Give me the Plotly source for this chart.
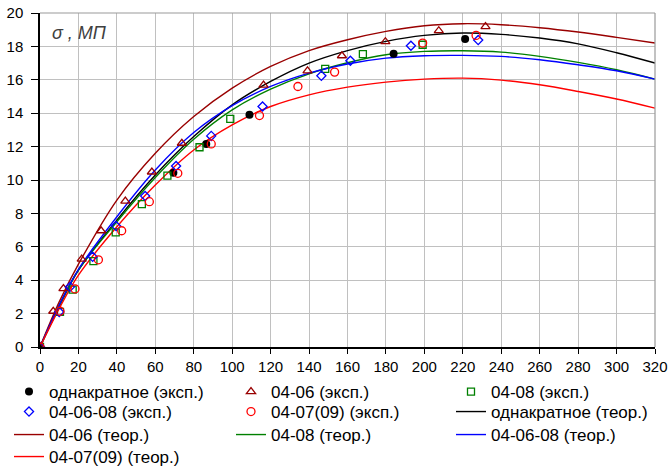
import plotly.graph_objects as go

# ---- experimental data ----
single_x = [0, 69.4, 86.5, 109, 184, 221.2]
single_y = [0, 10.44, 12.16, 13.9, 17.56, 18.44]

s0406_x = [0, 6.9, 12.2, 21.7, 31.8, 44.4, 58.2, 73.8, 116.3, 139.2, 157.1, 179.7, 207.5, 231.8]
s0406_y = [0, 2.14, 3.5, 5.26, 6.96, 8.74, 10.48, 12.2, 15.68, 16.54, 17.44, 18.28, 18.94, 19.18]

s0408_x = [0, 10.4, 17, 27.8, 39.4, 53, 66.3, 83, 99, 148.4, 168, 199.1]
s0408_y = [0, 2.1, 3.44, 5.14, 6.86, 8.56, 10.26, 11.96, 13.66, 16.66, 17.54, 18.1]

s040608_x = [0, 10, 15.6, 27.4, 39.6, 54.7, 70.8, 89.1, 115.8, 146.4, 161.5, 193, 228]
s040608_y = [0, 2.1, 3.6, 5.4, 7.24, 9.04, 10.84, 12.64, 14.4, 16.24, 17.14, 18.04, 18.38]

s0407_x = [0, 10.4, 18.2, 30.4, 42.5, 56.9, 71.7, 89.1, 114.2, 134.2, 153.3, 199.1, 226.9]
s0407_y = [0, 2.14, 3.48, 5.22, 6.96, 8.7, 10.4, 12.16, 13.86, 15.6, 16.46, 18.2, 18.66]

# ---- theoretical curves (read at these strains) ----
theo_x = [0, 10, 20, 40, 60, 80, 100, 120, 140, 160, 180, 200, 220, 240, 260, 280, 300, 320]
theo_single = [0, 2.5, 4.6, 7.6, 10.3, 12.6, 14.5, 15.9, 17.0, 17.75, 18.3, 18.66, 18.8, 18.72, 18.5, 18.15, 17.62, 17.0]
theo_0406 = [0, 2.7, 4.96, 8.8, 11.6, 13.8, 15.5, 16.8, 17.75, 18.4, 18.9, 19.24, 19.36, 19.3, 19.12, 18.86, 18.54, 18.2]
theo_0408 = [0, 2.4, 4.6, 7.5, 10.15, 12.44, 14.2, 15.44, 16.36, 17.02, 17.5, 17.7, 17.74, 17.66, 17.4, 17.04, 16.6, 16.04]
theo_040608 = [0, 2.5, 4.65, 7.8, 10.6, 12.84, 14.45, 15.6, 16.4, 16.95, 17.3, 17.44, 17.46, 17.4, 17.2, 16.9, 16.54, 16.04]
theo_0407 = [0, 2.3, 4.3, 7.2, 9.7, 11.8, 13.3, 14.4, 15.1, 15.56, 15.86, 16.04, 16.1, 15.98, 15.7, 15.3, 14.85, 14.3]

DARKRED = "#990000"
FONT = "Arial, Liberation Sans, sans-serif"

W, H = 671, 468
ML, MR, MT, MB = 40, 16, 13, 121
PW, PH = W - ML - MR, H - MT - MB

# legend slot (column text x in px, row centre y in px) for each entry
COL_X = [55, 277, 497]
ROW_Y = [392, 412, 435, 457]

fig = go.Figure()

lines = [
    ("однакратное (теор.)", theo_single, "#000000", (1, 2)),
    ("04-06 (теор.)", theo_0406, DARKRED, (2, 0)),
    ("04-08 (теор.)", theo_0408, "#008000", (2, 1)),
    ("04-06-08 (теор.)", theo_040608, "#0000ff", (2, 2)),
    ("04-07(09) (теор.)", theo_0407, "#ff0000", (3, 0)),
]
pts = [
    ("однакратное (эксп.)", single_x, single_y, dict(symbol="circle", size=8, color="#000000"), (0, 0)),
    ("04-06 (эксп.)", s0406_x, s0406_y, dict(symbol="triangle-up-open", size=8, color=DARKRED, line=dict(width=1.3)), (0, 1)),
    ("04-08 (эксп.)", s0408_x, s0408_y, dict(symbol="square-open", size=7, color="#008000", line=dict(width=1.3)), (0, 2)),
    ("04-06-08 (эксп.)", s040608_x, s040608_y, dict(symbol="diamond-open", size=7, color="#0000ff", line=dict(width=1.3)), (1, 0)),
    ("04-07(09) (эксп.)", s0407_x, s0407_y, dict(symbol="circle-open", size=8, color="#ff0000", line=dict(width=1.3)), (1, 1)),
]

legend_layouts = {}
counter = [0]


def legend_for(slot):
    counter[0] += 1
    key = "legend" if counter[0] == 1 else f"legend{counter[0]}"
    r, c = slot
    xpx = COL_X[c] - 46
    ypx = ROW_Y[r]
    legend_layouts[key] = dict(
        x=(xpx - ML) / PW, xanchor="left",
        y=(MT + PH - ypx) / PH, yanchor="middle",
        orientation="h", bgcolor="rgba(0,0,0,0)", borderwidth=0,
        font=dict(family=FONT, size=17, color="#000000"),
    )
    return key


for name, ys, col, slot in lines:
    fig.add_trace(go.Scatter(x=theo_x, y=ys, mode="lines", name=name,
                             line=dict(color=col, width=1.4, shape="spline", smoothing=1.0),
                             legend=legend_for(slot)))

for name, xs, ys, mk, slot in pts:
    fig.add_trace(go.Scatter(x=xs, y=ys, mode="markers", name=name, marker=mk,
                             legend=legend_for(slot)))

fig.update_layout(
    width=W, height=H,
    margin=dict(l=ML, r=MR, t=MT, b=MB, autoexpand=False),
    paper_bgcolor="white", plot_bgcolor="white",
    font=dict(family=FONT, size=15, color="#000000"),
    showlegend=True,
    **legend_layouts,
)
fig.update_xaxes(range=[0, 320], dtick=20, tick0=0, showgrid=True, gridcolor="#c0c0c0", gridwidth=1,
                 showline=True, linecolor="#000000", linewidth=1.5, ticks="outside", ticklen=5,
                 tickcolor="#000000", zeroline=False, fixedrange=True)
fig.update_yaxes(range=[0, 20], dtick=2, tick0=0, showgrid=True, gridcolor="#c0c0c0", gridwidth=1,
                 showline=True, linecolor="#000000", linewidth=1.5, ticks="outside", ticklen=7,
                 ticklabelstandoff=5,
                 tickcolor="#000000", zeroline=False, fixedrange=True)
# grey frame on top/right
fig.add_shape(type="line", xref="paper", yref="paper", x0=0, x1=1, y0=1, y1=1,
              line=dict(color="#999999", width=1.2))
fig.add_shape(type="line", xref="paper", yref="paper", x0=1, x1=1, y0=0, y1=1,
              line=dict(color="#999999", width=1.2))
fig.add_annotation(text="<i>σ , МП</i>", xref="paper", yref="paper",
                   x=(50 - ML) / PW, y=(MT + PH - 33) / PH,
                   xanchor="left", yanchor="middle", showarrow=False,
                   font=dict(family=FONT, size=18, color="#404040"))

fig.write_html("out.html", config={"displayModeBar": False},
               post_script="document.body.style.margin='0';")
